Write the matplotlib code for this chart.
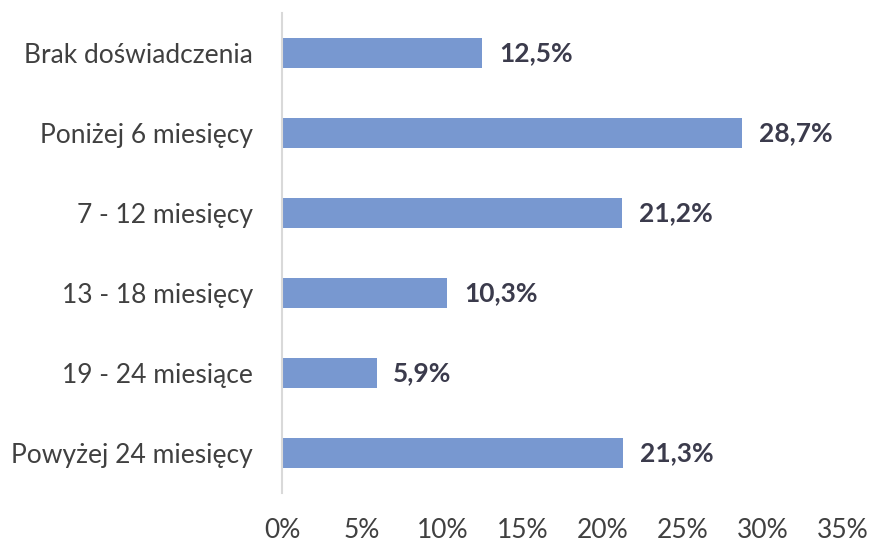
import matplotlib
matplotlib.use("Agg")
import matplotlib.pyplot as plt

# ----------------------------------------------------------
# DATA
# ----------------------------------------------------------
categories = [
    "Brak doświadczenia",
    "Poniżej 6 miesięcy",
    "7 - 12 miesięcy",
    "13 - 18 miesięcy",
    "19 - 24 miesiące",
    "Powyżej 24 miesięcy",
]
values = [12.5, 28.7, 21.2, 10.3, 5.9, 21.3]
x_ticks = [0, 5, 10, 15, 20, 25, 30, 35]

plt.rcParams['font.family'] = ['Lato', 'DejaVu Sans']

fig = plt.figure(figsize=(8.73, 5.42), dpi=100)
ax = fig.add_axes([282 / 873, 1 - 493 / 542, 561 / 873, 480 / 542])

ypos = list(range(len(categories)))
ax.barh(ypos, values, height=0.38, color='#7898D0', zorder=2)

for y, v in zip(ypos, values):
    ax.text(v + 1.05, y, f"{v:.1f}%".replace('.', ','), va='center', ha='left',
            fontsize=19, fontweight='bold', color='#3B3B4C')

ax.set_ylim(len(categories) - 0.5, -0.5)
ax.set_xlim(0, 35)
ax.set_yticks(ypos)
ax.set_yticklabels(categories, fontsize=19, color='#404040')
ax.set_xticks(x_ticks)
ax.set_xticklabels([f"{t}%" for t in x_ticks], fontsize=19, color='#404040')

for side in ['top', 'right', 'bottom']:
    ax.spines[side].set_visible(False)
ax.spines['left'].set_color('#D9D9D9')
ax.spines['left'].set_linewidth(1.5)
ax.tick_params(axis='both', length=0)
ax.tick_params(axis='y', pad=21)
ax.tick_params(axis='x', pad=18)

fig.savefig("out.png", dpi=100, facecolor='white')
